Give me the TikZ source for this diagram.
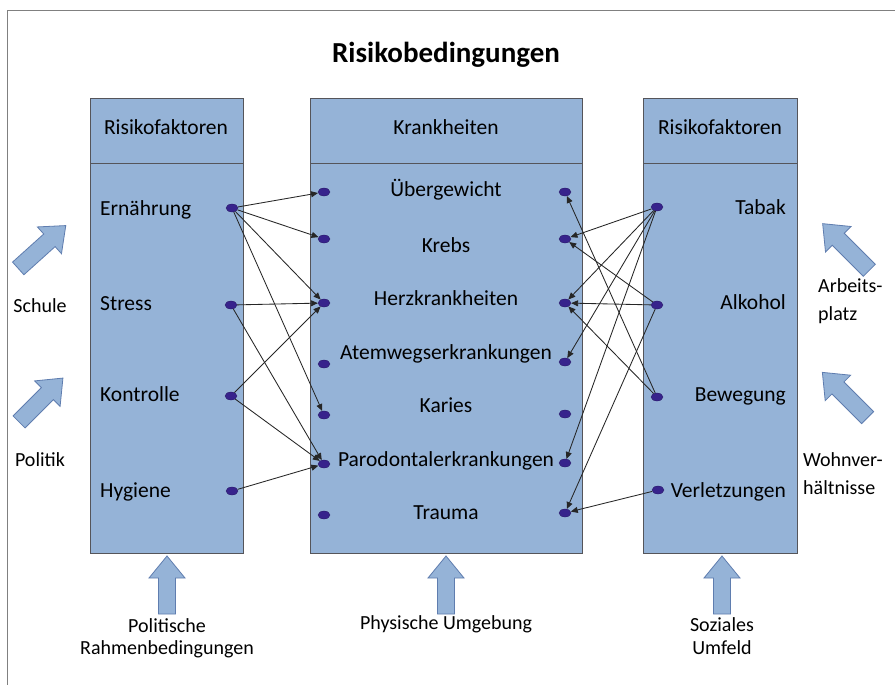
\documentclass[tikz,border=0pt]{standalone}
\usepackage{fontspec}
\setmainfont{Carlito}
\usetikzlibrary{arrows.meta,shapes.geometric}
\definecolor{boxblue}{RGB}{149,179,215}
\definecolor{boxline}{RGB}{85,85,90}
\definecolor{dotc}{RGB}{55,35,140}
\definecolor{arrline}{RGB}{95,125,175}
\begin{document}
\begin{tikzpicture}[x=1pt,y=-1pt,
  column/.style={draw=boxline, fill=boxblue, line width=0.9pt},
  dot/.style={ellipse, fill=dotc, draw=dotc!70!black, line width=0.3pt, minimum width=12pt, minimum height=8pt, inner sep=0pt},
  conn/.style={draw=black!85, line width=0.85pt, -{Triangle[length=7pt,width=6pt]}},
  lbl/.style={font=\fontsize{21.5}{25}\selectfont, inner sep=0pt, text height=14pt, text depth=4pt},
  blbl/.style={font=\fontsize{20}{23}\selectfont, inner sep=0pt, align=center},
  sidelbl/.style={font=\fontsize{20}{28}\selectfont, inner sep=0pt, align=left},
  barrowstyle/.style={draw=arrline, fill=boxblue, line width=0.8pt, line join=miter},
  pics/blockarr/.style={code={
    \draw[barrowstyle] (-#1,-8.5) -- ({#1-22},-8.5) -- ({#1-22},-18) -- (#1,0) -- ({#1-22},18) -- ({#1-22},8.5) -- (-#1,8.5) -- cycle;
  }}
]
\useasboundingbox (0,0) rectangle (895,685);
\fill[white] (0,0) rectangle (895,685);
% frame
\draw[gray, line width=0.8pt] (7,685) -- (7,10) -- (895,10);

% title
\node[font=\fontsize{29}{33}\selectfont\bfseries, inner sep=0pt] (title) at (446,55) {Risikobedingungen};

% columns
\draw[column] (90,98) rectangle (243,553);
\draw[boxline, line width=0.9pt] (90,163) -- (243,163);
\draw[column] (310,98) rectangle (582,553);
\draw[boxline, line width=0.9pt] (310,163) -- (582,163);
\draw[column] (643,98) rectangle (797,553);
\draw[boxline, line width=0.9pt] (643,163) -- (797,163);

% headers
\node[lbl] (hl) at (166,130) {Risikofaktoren};
\node[lbl] (hm) at (446,130) {Krankheiten};
\node[lbl] (hr) at (720,130) {Risikofaktoren};

% left labels
\node[lbl, anchor=west] (tl1) at (100,210) {Ernährung};
\node[lbl, anchor=west] (tl2) at (100,305) {Stress};
\node[lbl, anchor=west] (tl3) at (100,396) {Kontrolle};
\node[lbl, anchor=west] (tl4) at (100,492) {Hygiene};

% middle labels
\node[lbl] (tm1) at (446,191) {Übergewicht};
\node[lbl] (tm2) at (446,247) {Krebs};
\node[lbl] (tm3) at (446,300) {Herzkrankheiten};
\node[lbl] (tm4) at (446,354) {Atemwegserkrankungen};
\node[lbl] (tm5) at (446,407) {Karies};
\node[lbl] (tm6) at (446,461) {Parodontalerkrankungen};
\node[lbl] (tm7) at (446,514) {Trauma};

% right labels
\node[lbl, anchor=east] (tr1) at (786,209) {Tabak};
\node[lbl, anchor=east] (tr2) at (786,304) {Alkohol};
\node[lbl, anchor=east] (tr3) at (786,396) {Bewegung};
\node[lbl, anchor=east] (tr4) at (786,492) {Verletzungen};

% dots
\node[dot] (l1) at (232,208) {};
\node[dot] (l2) at (231,305) {};
\node[dot] (l3) at (231,396) {};
\node[dot] (l4) at (232,491) {};

\node[dot] (ml1) at (324,192) {};
\node[dot] (ml2) at (324,239) {};
\node[dot] (ml3) at (324,303) {};
\node[dot] (ml4) at (324,364) {};
\node[dot] (ml5) at (324,415) {};
\node[dot] (ml6) at (324,464) {};
\node[dot] (ml7) at (324,515) {};

\node[dot] (mr1) at (565,192) {};
\node[dot] (mr2) at (565,239) {};
\node[dot] (mr3) at (565,303) {};
\node[dot] (mr4) at (565,362) {};
\node[dot] (mr5) at (565,414) {};
\node[dot] (mr6) at (565,463) {};
\node[dot] (mr7) at (565,513) {};

\node[dot] (r1) at (657,207) {};
\node[dot] (r2) at (657,305) {};
\node[dot] (r3) at (657,397) {};
\node[dot] (r4) at (658,490) {};

% connectors left
\draw[conn] (l1) -- (ml1);
\draw[conn] (l1) -- (ml2);
\draw[conn] (l1) -- (ml3);
\draw[conn] (l1) -- (ml5);
\draw[conn] (l2) -- (ml3);
\draw[conn] (l2) -- (ml6);
\draw[conn] (l3) -- (ml3);
\draw[conn] (l3) -- (ml6);
\draw[conn] (l4) -- (ml6);

% connectors right
\draw[conn] (r1) -- (mr2);
\draw[conn] (r1) -- (mr3);
\draw[conn] (r1) -- (mr4);
\draw[conn] (r1) -- (mr6);
\draw[conn] (r2) -- (mr2);
\draw[conn] (r2) -- (mr3);
\draw[conn] (r2) -- (mr7);
\draw[conn] (r3) -- (mr1);
\draw[conn] (r3) -- (mr3);
\draw[conn] (r4) -- (mr7);

% side block arrows
\pic[rotate=42] at (42,247) {blockarr=32};
\pic[rotate=45] at (41,400) {blockarr=31};
\pic[rotate=135] at (846,247) {blockarr=33};
\pic[rotate=135] at (845,395) {blockarr=32};

% bottom block arrows
\pic[rotate=90] at (167,585) {blockarr=29};
\pic[rotate=90] at (446,585) {blockarr=29};
\pic[rotate=90] at (722,585) {blockarr=29};

% side labels
\node[sidelbl] (s1) at (40,306) {Schule};
\node[sidelbl] (s2) at (40,460) {Politik};
\node[sidelbl, anchor=west] (s3) at (818,301) {Arbeits-\\platz};
\node[sidelbl, anchor=west] (s4) at (803,474) {Wohnver-\\hältnisse};

% bottom labels
\node[blbl, font=\fontsize{20}{22}\selectfont] (b1) at (167,638) {Politische\\Rahmenbedingungen};
\node[blbl] (b2) at (446,624) {Physische Umgebung};
\node[blbl, font=\fontsize{20}{23}\selectfont] (b3) at (722,636) {Soziales\\Umfeld};
\end{tikzpicture}
\end{document}
